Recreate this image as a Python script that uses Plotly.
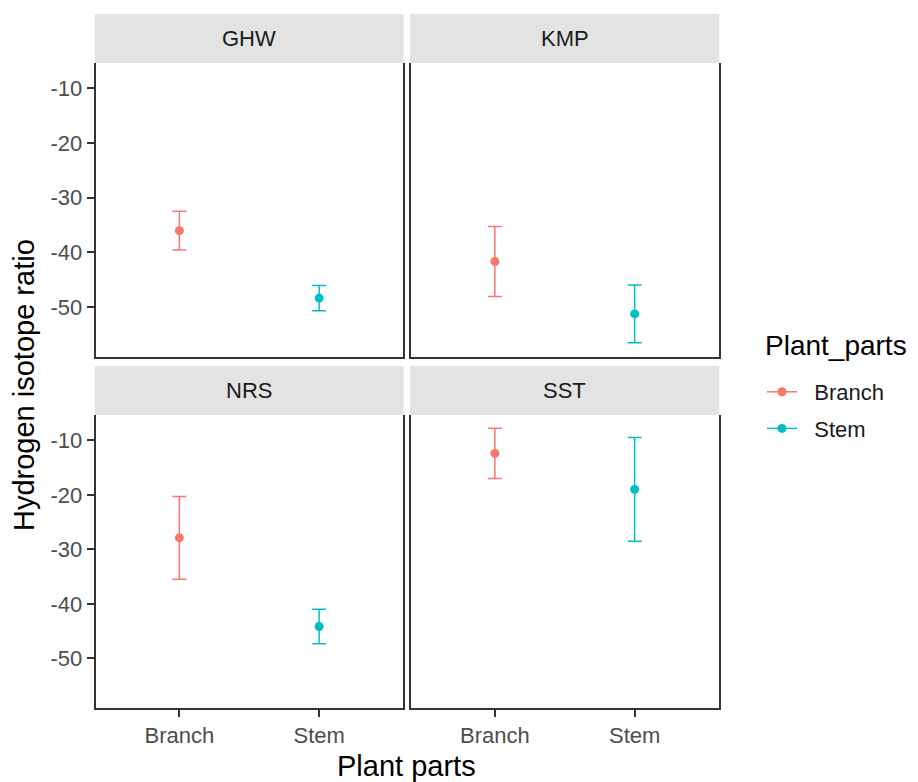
import plotly.graph_objects as go

# ---- data ----
sites = ["GHW", "KMP", "NRS", "SST"]
parts = ["Branch", "Stem"]
branch_mean = [-36.05, -41.7, -27.9, -12.4]
branch_err = [3.55, 6.4, 7.6, 4.6]
stem_mean = [-48.4, -51.3, -44.15, -19.0]
stem_err = [2.3, 5.3, 3.15, 9.5]
y_ticks = [-50, -40, -30, -20, -10]
y_tick_labels = ["-50", "-40", "-30", "-20", "-10"]

colors = {"Branch": "#F8766D", "Stem": "#00BFC4"}
FONT = "Liberation Sans, Arial, sans-serif"

# the page body has an 8px margin; lay out in page pixels and shift
OFF = 8
W, H = 918 - OFF, 782 - OFF


def px(x):
    return (x - OFF) / W


def py(y):
    return 1 - (y - OFF) / H


# panel geometry in page pixels (left, right), (top, bottom)
col_x = [(95.5, 403.0), (411.0, 718.5)]
row_y = [(63.0, 356.5), (415.0, 708.0)]
strip_h = 49.0

fig = go.Figure()
means = {"Branch": branch_mean, "Stem": stem_mean}
errs = {"Branch": branch_err, "Stem": stem_err}

for i, site in enumerate(sites):
    r, c = divmod(i, 2)
    n = i + 1
    xa = "x" if n == 1 else f"x{n}"
    ya = "y" if n == 1 else f"y{n}"
    for p in parts:
        fig.add_trace(go.Scatter(
            x=[p], y=[means[p][i]], xaxis=xa, yaxis=ya,
            mode="markers",
            marker=dict(color=colors[p], size=9),
            error_y=dict(type="data", array=[errs[p][i]], color=colors[p],
                         thickness=1.5, width=7),
            showlegend=False, hoverinfo="x+y",
        ))
    x0, x1 = col_x[c]
    y0, y1 = row_y[r]
    xkey = "xaxis" if n == 1 else f"xaxis{n}"
    ykey = "yaxis" if n == 1 else f"yaxis{n}"
    fig.layout[xkey] = dict(
        domain=[px(x0), px(x1)], anchor=ya, type="category",
        categoryorder="array", categoryarray=parts,
        range=[-0.6, 1.6], showgrid=False, zeroline=False,
        showline=True, linecolor="#333333", linewidth=1.6,
        ticks="outside" if r == 1 else "", ticklen=7, tickwidth=1.5,
        tickcolor="#333333", showticklabels=(r == 1),
        tickfont=dict(family=FONT, size=22, color="#4d4d4d"),
    )
    fig.layout[ykey] = dict(
        domain=[py(y1), py(y0)], anchor=xa, range=[-59.1, -5.35],
        tickvals=y_ticks, ticktext=y_tick_labels,
        showgrid=False, zeroline=False,
        showline=True, mirror=True, linecolor="#333333", linewidth=1.6,
        ticks="outside" if c == 0 else "", ticklen=7, tickwidth=1.5,
        tickcolor="#333333", showticklabels=(c == 0),
        tickfont=dict(family=FONT, size=22, color="#4d4d4d"),
    )
    # strip
    fig.add_shape(type="rect", xref="paper", yref="paper",
                  x0=px(x0 - 0.8), x1=px(x1 + 0.8),
                  y0=py(y0), y1=py(y0 - strip_h),
                  fillcolor="#e3e3e3", line=dict(width=0), layer="below")
    fig.add_annotation(xref="paper", yref="paper",
                       x=px((x0 + x1) / 2), y=py(y0 - strip_h / 2),
                       xanchor="center", yanchor="middle",
                       text=site, showarrow=False,
                       font=dict(family=FONT, size=22, color="#1a1a1a"))

# legend entries
for p in parts:
    fig.add_trace(go.Scatter(
        x=[None], y=[None], mode="lines+markers", name="\u00a0\u00a0" + p,
        line=dict(color=colors[p], width=1.5),
        marker=dict(color=colors[p], size=9), legendgroup=p,
    ))

# axis titles
fig.add_annotation(xref="paper", yref="paper", x=px(406), y=py(766),
                   xanchor="center", yanchor="middle",
                   text="Plant parts", showarrow=False,
                   font=dict(family=FONT, size=29, color="#000000"))
fig.add_annotation(xref="paper", yref="paper", x=px(24), y=py(385),
                   xanchor="center", yanchor="middle",
                   text="Hydrogen isotope ratio", showarrow=False, textangle=-90,
                   font=dict(family=FONT, size=29, color="#000000"))
# legend title
fig.add_annotation(xref="paper", yref="paper", x=px(763), y=py(345),
                   xanchor="left", yanchor="middle",
                   text="Plant_parts", showarrow=False,
                   font=dict(family=FONT, size=28, color="#000000"))

fig.update_layout(
    width=W, height=H,
    margin=dict(l=0, r=0, t=0, b=0),
    paper_bgcolor="white", plot_bgcolor="white",
    showlegend=True,
    legend=dict(
        x=px(762), xanchor="left", y=py(371), yanchor="top",
        font=dict(family=FONT, size=22, color="#1a1a1a"),
        tracegroupgap=5, bgcolor="rgba(0,0,0,0)",
    ),
)

fig.write_html("out.html")
